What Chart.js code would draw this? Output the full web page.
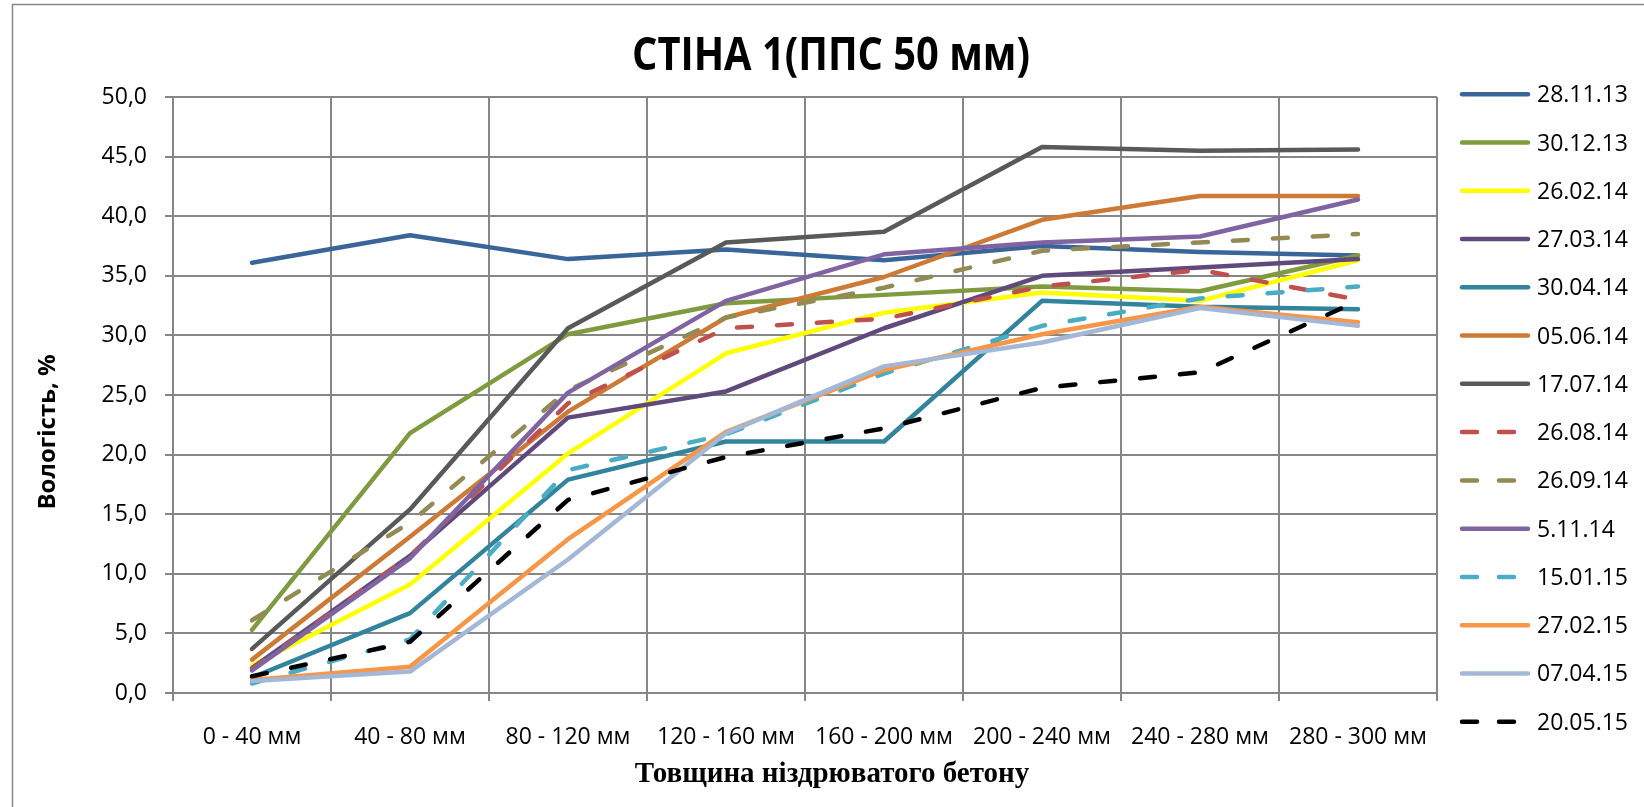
<!DOCTYPE html>
<html>
<head>
<meta charset="utf-8">
<script src="https://cdn.jsdelivr.net/npm/chart.js@4.4.0/dist/chart.umd.min.js"></script>
<style>
  html, body { margin: 0; padding: 0; background: #fff; }
  #wrap { width: 1644px; height: 807px; }
</style>
</head>
<body>
<div id="wrap"><canvas id="chart" width="1644" height="807"></canvas></div>
<script>
// categories (depth layers)
const depths = ['0 - 40 мм', '40 - 80 мм', '80 - 120 мм', '120 - 160 мм',
  '160 - 200 мм', '200 - 240 мм', '240 - 280 мм', '280 - 300 мм'];

// measurement dates
const dates = ['28.11.13', '30.12.13', '26.02.14', '27.03.14', '30.04.14', '05.06.14', '17.07.14',
  '26.08.14', '26.09.14', '5.11.14', '15.01.15', '27.02.15', '07.04.15', '20.05.15'];

// moisture, %
const m281113 = [36.1, 38.4, 36.4, 37.2, 36.3, 37.5, 37.0, 36.7];
const m301213 = [5.3, 21.8, 30.1, 32.7, 33.4, 34.1, 33.7, 36.7];
const m260214 = [2.3, 9.1, 20.1, 28.5, 31.9, 33.6, 32.9, 36.3];
const m270314 = [2.1, 11.5, 23.1, 25.3, 30.6, 35.0, 35.7, 36.4];
const m300414 = [1.3, 6.7, 17.9, 21.1, 21.1, 32.9, 32.4, 32.2];
const m050614 = [2.8, 13.1, 23.6, 31.5, 34.9, 39.7, 41.7, 41.7];
const m170714 = [3.7, 15.4, 30.6, 37.8, 38.7, 45.8, 45.5, 45.6];
const m260814 = [2.0, 11.5, 24.3, 30.6, 31.4, 34.1, 35.5, 33.0];
const m260914 = [6.1, 14.3, 25.4, 31.5, 34.0, 37.1, 37.8, 38.5];
const m051114 = [1.9, 11.3, 25.2, 32.9, 36.8, 37.8, 38.3, 41.4];
const m150115 = [0.8, 4.5, 18.7, 21.7, 26.8, 30.8, 33.1, 34.1];
const m270215 = [1.1, 2.2, 12.9, 21.9, 27.1, 30.1, 32.4, 31.1];
const m070415 = [1.0, 1.8, 11.2, 21.8, 27.4, 29.4, 32.3, 30.8];
const m200515 = [1.4, 4.3, 16.2, 19.8, 22.2, 25.6, 26.9, 32.9];

const yTicks = [0, 5, 10, 15, 20, 25, 30, 35, 40, 45, 50];

const series = [m281113, m301213, m260214, m270314, m300414, m050614, m170714,
  m260814, m260914, m051114, m150115, m270215, m070415, m200515];
const colors = ['#3a6598', '#7f9b3f', '#ffff00', '#604a7b', '#31849b', '#cd7a36', '#595959',
  '#c0504d', '#948a54', '#8064a2', '#4bacc6', '#f79646', '#a3b7d6', '#000000'];
const dashed = [false, false, false, false, false, false, false,
  true, true, false, true, false, false, true];

const datasets = series.map((d, i) => ({
  label: dates[i],
  data: d,
  borderColor: colors[i],
  backgroundColor: colors[i],
  borderWidth: 4.5,
  borderDash: dashed[i] ? [15, 25] : [],
  borderCapStyle: 'round',
  borderJoinStyle: 'round',
  pointRadius: 0,
  tension: 0,
  fill: false,
  order: series.length - i
}));

const GRID = '#868686';

const decor = {
  id: 'decor',
  afterDraw(chart) {
    const ctx = chart.ctx;
    ctx.save();
    // outer frame
    ctx.strokeStyle = GRID;
    ctx.lineWidth = 1.5;
    ctx.strokeRect(12.5, 4.5, 1700, 900);

    ctx.fillStyle = '#000';
    // title
    ctx.save();
    ctx.font = 'bold 47px "Open Sans"';
    const title = 'СТІНА 1(ППС 50 мм)';
    const tw = ctx.measureText(title).width;
    ctx.translate(831, 70);
    ctx.scale(398 / tw, 1);
    ctx.textAlign = 'center';
    ctx.textBaseline = 'alphabetic';
    ctx.fillText(title, 0, 0);
    ctx.restore();

    // y axis title
    ctx.save();
    ctx.font = 'bold 24px "Open Sans"';
    ctx.translate(55, 432);
    ctx.rotate(-Math.PI / 2);
    ctx.textAlign = 'center';
    ctx.textBaseline = 'alphabetic';
    ctx.fillText('Вологість, %', 0, 0);
    ctx.restore();

    // x axis title
    ctx.font = 'bold 29px "Liberation Serif"';
    ctx.textAlign = 'center';
    ctx.textBaseline = 'alphabetic';
    ctx.fillText('Товщина ніздрюватого бетону', 832, 782);

    // legend
    ctx.font = '23px "Open Sans"';
    ctx.textAlign = 'left';
    chart.data.datasets.forEach((ds, i) => {
      const y = 94.3 + i * 48.26;
      ctx.strokeStyle = ds.borderColor;
      ctx.lineWidth = 4.5;
      ctx.lineCap = 'round';
      ctx.beginPath();
      if (ds.borderDash.length) {
        ctx.moveTo(1462, y); ctx.lineTo(1477, y);
        ctx.moveTo(1499, y); ctx.lineTo(1514, y);
      } else {
        ctx.moveTo(1462, y); ctx.lineTo(1528, y);
      }
      ctx.stroke();
      ctx.fillStyle = '#000';
      ctx.fillText(ds.label, 1537, y + 8);
    });
    ctx.restore();
  }
};

new Chart(document.getElementById('chart').getContext('2d'), {
  type: 'line',
  data: { labels: depths, datasets: datasets },
  options: {
    responsive: false,
    maintainAspectRatio: false,
    animation: false,
    layout: { padding: { left: 0, top: 97, right: 207, bottom: 0 } },
    plugins: {
      legend: { display: false },
      title: { display: false },
      tooltip: { enabled: false }
    },
    scales: {
      x: {
        offset: true,
        grid: { offset: true, color: GRID, lineWidth: 2, tickLength: 8 },
        border: { color: GRID, width: 2 },
        ticks: {
          color: '#000', padding: 23, autoSkip: false, maxRotation: 0,
          font: { family: 'Open Sans', size: 23 }
        },
        afterFit: s => { s.height = 114; }
      },
      y: {
        min: 0,
        max: 50,
        afterBuildTicks: s => { s.ticks = yTicks.map(v => ({ value: v })); },
        grid: { color: GRID, lineWidth: 2, tickLength: 8 },
        border: { color: GRID, width: 2 },
        ticks: {
          color: '#000', padding: 18,
          font: { family: 'Open Sans', size: 23 },
          callback: v => v.toFixed(1).replace('.', ',')
        },
        afterFit: s => { s.width = 173; }
      }
    }
  },
  plugins: [decor]
});
</script>
</body>
</html>
